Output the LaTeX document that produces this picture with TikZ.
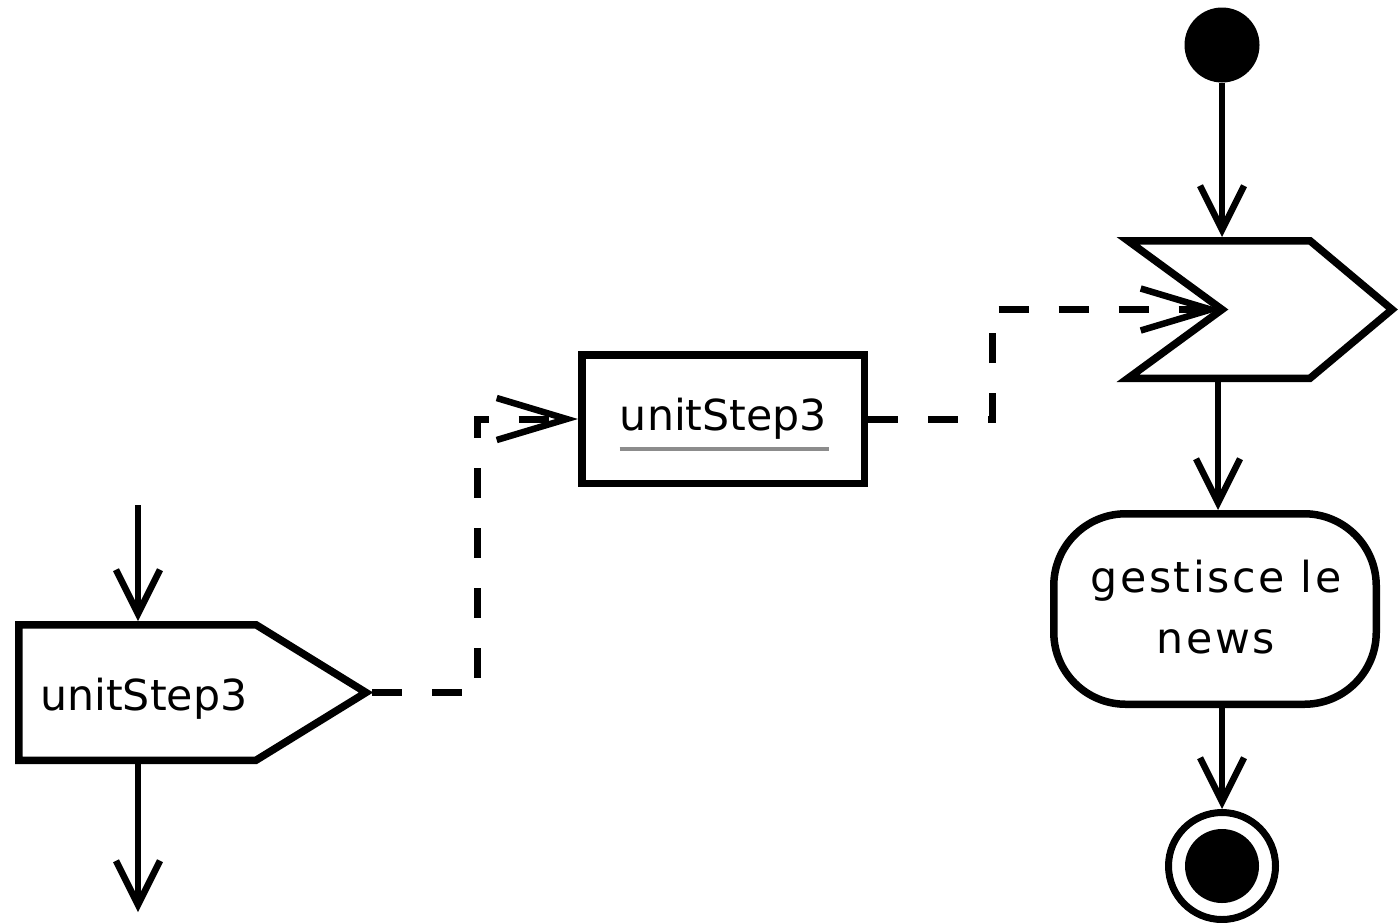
\documentclass[tikz,border=0pt]{standalone}
\usepackage{fontspec}
\setmainfont{DejaVu Sans}
\usetikzlibrary{arrows.meta}
\begin{document}
\begin{tikzpicture}[x=1pt,y=-1pt,
  border/.style={line width=7.5pt, line join=miter},
  flow/.style={line width=5.5pt,
    -{Straight Barb[length=44pt,width=44pt,line width=6.5pt]}},
  objflow/.style={line width=7pt, dash pattern=on 30pt off 30pt,
    -{Straight Barb[length=70pt,width=42pt,line width=6.5pt]}},
  lbl/.style={font=\fontsize{42.7}{61}\selectfont, inner sep=0pt},
  ul/.style={draw=black!45, line width=4pt}]
\useasboundingbox (0,0) rectangle (1399,922);

% start and end of the flow
\node[circle, fill=black, minimum size=75pt, inner sep=0pt] (init) at (1222,45) {};
\node[circle, draw, line width=7pt, minimum size=107pt, inner sep=0pt] (final) at (1222,866) {};
\node[circle, fill=black, minimum size=74pt, inner sep=0pt] (finalDot) at (final.center) {};

% accept-event action
\draw[border] (1128,240.75) -- (1310,240.75) -- (1392,309.5) -- (1310,378.25)
  -- (1128,378.25) -- (1222,309.5) -- cycle;
\coordinate (accTop) at (1222,237);
\coordinate (accIn) at (1222,309.5);
\coordinate (accBot) at (1218,382);

% activity
\node[draw, border, rounded corners=72pt, minimum width=322.5pt, minimum height=190.5pt,
  inner sep=0pt] (act) at (1215,609) {};
\node[lbl, align=center, anchor=base] (actLbl) at (1216,653)
  {\addfontfeature{LetterSpace=6}gestisce le\\\addfontfeature{LetterSpace=6}news};

% object node
\node[draw, border, minimum width=282.5pt, minimum height=128.5pt, inner sep=0pt]
  (unit) at (723,419) {};
\node[lbl, anchor=base] (unitLbl) at (723.5,430) {unitStep3};
\draw[ul] ([yshift=-19pt]unitLbl.base west) -- ([yshift=-19pt,xshift=2pt]unitLbl.base east);

% send-signal action
\draw[border] (18.75,624.75) -- (256,624.75) -- (366,692.5) -- (256,760.25)
  -- (18.75,760.25) -- cycle;
\node[lbl, anchor=base west] (sendLbl) at (40,710) {unitStep3};
\coordinate (sendTop) at (138,621);
\coordinate (sendBot) at (138,764);
\coordinate (sendTip) at (372,692.5);
\coordinate (sendIn) at (138,505);
\coordinate (sendOut) at (138,912);

% bends of the object flows
\coordinate (j1) at (477,692.5);
\coordinate (j2) at (992,309.5);

% control flows
\draw[flow] (init) -- (accTop);
\draw[flow] (accBot) -- (accBot |- act.north);
\draw[flow] (final |- act.south) -- (final.north);
\draw[flow] (sendIn) -- (sendTop);
\draw[flow] (sendBot) -- (sendOut);

% object flows
\draw[objflow] (sendTip) -- (j1) |- (unit.west);
\draw[objflow] (unit.east) -| (j2) -- (accIn);
\end{tikzpicture}
\end{document}
